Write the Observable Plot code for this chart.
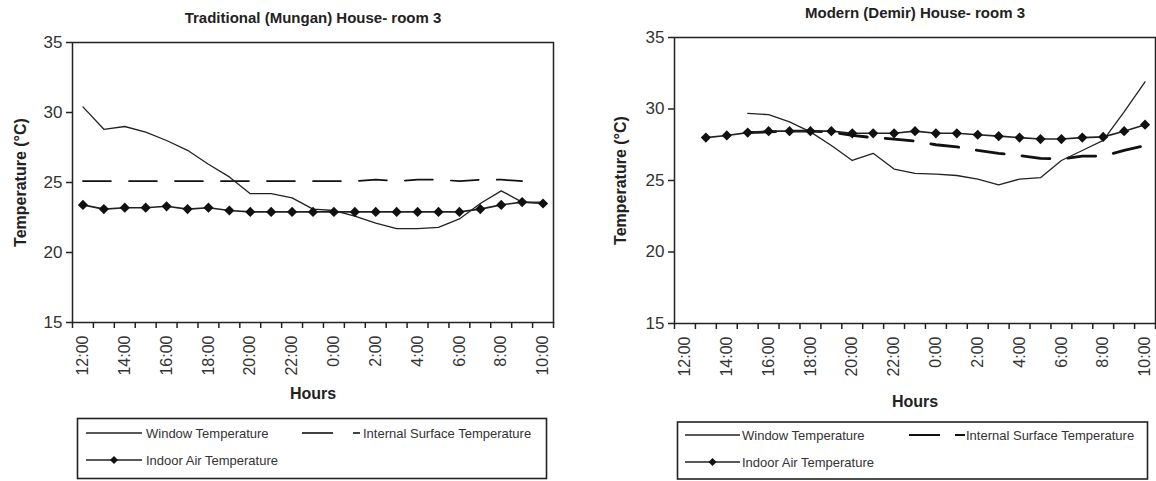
<!DOCTYPE html>
<html><head><meta charset="utf-8">
<script src="https://cdn.jsdelivr.net/npm/d3@7"></script>
<script src="https://cdn.jsdelivr.net/npm/@observablehq/plot@0.6"></script>
<style>
body{margin:0;background:#fff;}
#wrap{position:relative;width:1156px;height:481px;overflow:hidden;background:#fff;font-family:"Liberation Sans",Arial,sans-serif;}
#wrap svg{position:absolute;}
</style></head><body><div id="wrap"></div>
<script>
// ---------- data ----------
const hours = ["12:00","13:00","14:00","15:00","16:00","17:00","18:00","19:00","20:00","21:00","22:00","23:00",
               "0:00","1:00","2:00","3:00","4:00","5:00","6:00","7:00","8:00","9:00","10:00"];
const labeledHours = ["12:00","14:00","16:00","18:00","20:00","22:00","0:00","2:00","4:00","6:00","8:00","10:00"];
const yTicks = [15, 20, 25, 30, 35];
const seriesNames = ["Window Temperature", "Internal Surface Temperature", "Indoor Air Temperature"];
const titles = ["Traditional (Mungan) House- room 3", "Modern (Demir) House- room 3"];
const yLabel = "Temperature (\u00B0C)";
const xLabel = "Hours";

// Traditional (Mungan) house
const mungWindow  = [30.4, 28.8, 29.0, 28.6, 28.0, 27.3, 26.3, 25.4, 24.2, 24.2, 23.9, 23.1,
                     23.0, 22.6, 22.1, 21.7, 21.7, 21.8, 22.4, 23.5, 24.4, 23.6, 23.6];
const mungSurface = [25.1, 25.1, 25.1, 25.1, 25.1, 25.1, 25.1, 25.1, 25.1, 25.1, 25.1, 25.1,
                     25.1, 25.1, 25.2, 25.1, 25.2, 25.2, 25.1, 25.2, 25.2, 25.1, null];
const mungIndoor  = [23.4, 23.1, 23.2, 23.2, 23.3, 23.1, 23.2, 23.0, 22.9, 22.9, 22.9, 22.9,
                     22.9, 22.9, 22.9, 22.9, 22.9, 22.9, 22.9, 23.1, 23.4, 23.6, 23.5];
// Modern (Demir) house
const demWindow  = [null, null, null, 29.7, 29.6, 29.1, 28.4, 27.45, 26.4, 26.9, 25.8, 25.5,
                    25.45, 25.35, 25.1, 24.7, 25.1, 25.2, 26.4, 27.1, 27.8, 29.8, 31.9];
const demSurface = [null, null, null, 28.35, 28.4, 28.45, 28.45, 28.4, 28.15, 28.0, 27.9, 27.75,
                    27.5, 27.35, 27.1, 26.9, 26.75, 26.55, 26.5, 26.7, 26.7, 27.1, 27.45];
const demIndoor  = [null, 28.0, 28.15, 28.35, 28.45, 28.45, 28.45, 28.45, 28.3, 28.3, 28.3, 28.45,
                    28.3, 28.3, 28.2, 28.1, 28.0, 27.9, 27.9, 28.0, 28.05, 28.45, 28.9];

const FONT = "Liberation Sans, Arial, sans-serif";
const wrap = document.getElementById("wrap");

function chart(o) {
  const rows = hours.map((h, i) => ({i, h, w: o.windowT[i], s: o.surfaceT[i], a: o.indoorT[i]}));
  const idx = h => hours.indexOf(h);
  const p = Plot.plot({
    width: o.width, height: 400,
    marginLeft: o.ml, marginRight: o.mr, marginTop: o.mt, marginBottom: o.mb,
    style: {fontFamily: FONT, color: "#222", background: "transparent", overflow: "visible"},
    x: {type: "linear", domain: [-0.5, hours.length - 0.5]},
    y: {domain: [yTicks[0], yTicks[yTicks.length - 1]]},
    marks: [
      Plot.frame({stroke: "#222", strokeWidth: 1.5}),
      Plot.axisX({ticks: d3.range(-0.5, hours.length, 1), tickFormat: () => "", tickSize: 6, stroke: "#222", strokeWidth: 1.5, label: null}),
      Plot.axisX({ticks: labeledHours.map(idx), tickSize: 0, tickPadding: 13, tickRotate: -90,
                  tickFormat: i => hours[i], fontSize: 16, fill: "#333", label: null}),
      Plot.axisY({ticks: yTicks, tickSize: 6, tickPadding: 4, stroke: "#222", strokeWidth: 1.5, fontSize: 17, fill: "#333", label: null}),
      Plot.text([yLabel], {frameAnchor: "left", rotate: -90, dx: -o.yLabelOff, textAnchor: "middle", lineAnchor: "middle",
                           fontSize: 16, fontWeight: "bold", fill: "#222"}),
      Plot.text([o.title], {frameAnchor: "top", dy: o.titleDy, textAnchor: "middle", lineAnchor: "middle",
                            fontSize: 15, fontWeight: "bold", fill: "#222"}),
      Plot.text([xLabel], {frameAnchor: "bottom", dy: o.hoursDy, textAnchor: "middle", lineAnchor: "middle",
                           fontSize: 16, fontWeight: "bold", fill: "#222"}),
      Plot.line(rows, {filter: d => d.s != null, x: "i", y: "s", stroke: "#111", strokeWidth: o.surfW, strokeDasharray: "28,18"}),
      Plot.line(rows, {filter: d => d.w != null, x: "i", y: "w", stroke: "#222", strokeWidth: 1.3}),
      Plot.line(rows, {filter: d => d.a != null, x: "i", y: "a", stroke: "#222", strokeWidth: 1.6}),
      Plot.dot(rows, {filter: d => d.a != null, x: "i", y: "a", symbol: "diamond2", r: 4.6, fill: "#111", stroke: "none"})
    ]
  });
  p.style.left = o.left + "px";
  p.style.top = "0px";
  wrap.appendChild(p);
}

chart({title: titles[0], windowT: mungWindow, surfaceT: mungSurface, indoorT: mungIndoor,
       left: 0, width: 578, ml: 72, mr: 25, mt: 42, mb: 78, titleDy: -24, hoursDy: 71, yLabelOff: 52, surfW: 1.7});
chart({title: titles[1], windowT: demWindow, surfaceT: demSurface, indoorT: demIndoor,
       left: 580, width: 576, ml: 94, mr: 1, mt: 37, mb: 77, titleDy: -24, hoursDy: 78, yLabelOff: 54, surfW: 2.8});

// ---------- legends ----------
const leg = d3.create("svg").attr("width", 1156).attr("height", 481).style("left", "0px").style("top", "0px")
  .style("pointer-events", "none");
function legend(b) {
  const g = leg.append("g");
  g.append("rect").attr("x", b.x).attr("y", b.y).attr("width", b.w).attr("height", b.h)
    .attr("fill", "none").attr("stroke", "#222").attr("stroke-width", 1.6);
  const txt = (x, y, s) => g.append("text").attr("x", x).attr("y", y).attr("dy", "0.35em")
    .attr("font-family", FONT).attr("font-size", 13).attr("fill", "#333").text(s);
  // window
  g.append("line").attr("x1", b.s1).attr("x2", b.s2).attr("y1", b.r1).attr("y2", b.r1).attr("stroke", "#222").attr("stroke-width", 1.3);
  txt(b.t1, b.r1, seriesNames[0]);
  // surface
  g.append("line").attr("x1", b.d1).attr("x2", b.d2).attr("y1", b.r1).attr("y2", b.r1).attr("stroke", "#111").attr("stroke-width", b.dw);
  g.append("line").attr("x1", b.d3).attr("x2", b.d4).attr("y1", b.r1).attr("y2", b.r1).attr("stroke", "#111").attr("stroke-width", b.dw);
  txt(b.t2, b.r1, seriesNames[1]);
  // indoor
  g.append("line").attr("x1", b.s1).attr("x2", b.s2).attr("y1", b.r2).attr("y2", b.r2).attr("stroke", "#222").attr("stroke-width", 1.6);
  const cx = (b.s1 + b.s2) / 2;
  g.append("path").attr("d", d3.symbol(d3.symbolDiamond2, 42)()).attr("transform", `translate(${cx},${b.r2})`).attr("fill", "#111");
  txt(b.t1, b.r2, seriesNames[2]);
}
legend({x: 77.5, y: 418.5, w: 469, h: 60, r1: 433, r2: 460, s1: 86, s2: 142, t1: 146,
        d1: 302, d2: 333, d3: 353, d4: 360, t2: 363, dw: 1.6});
legend({x: 677.5, y: 422, w: 470, h: 57, r1: 435, r2: 462, s1: 685, s2: 740, t1: 742,
        d1: 909, d2: 940, d3: 955, d4: 965, t2: 966, dw: 2});
wrap.appendChild(leg.node());
</script></body></html>
